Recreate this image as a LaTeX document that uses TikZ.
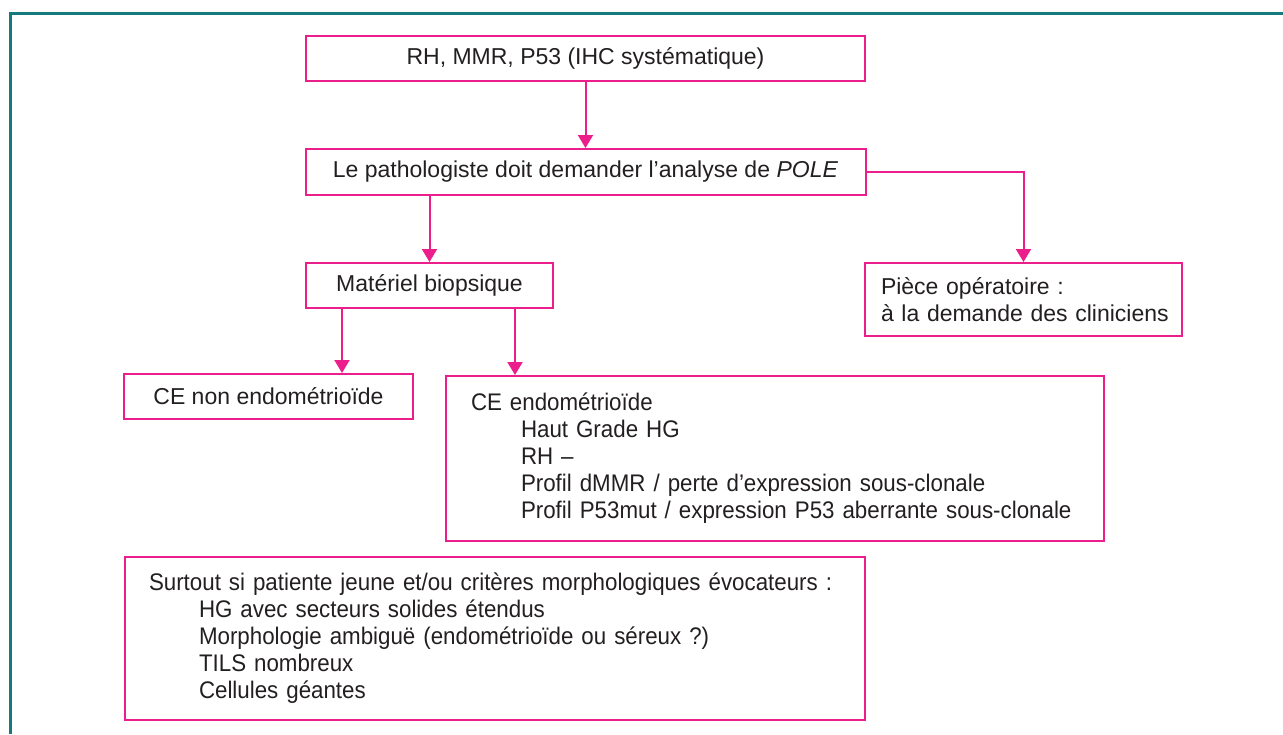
\documentclass[tikz,border=0pt]{standalone}
\usepackage{fontspec}
\setmainfont{Liberation Sans}
\newfontfamily\condf[FakeStretch=0.93]{Liberation Sans}
\usetikzlibrary{arrows.meta,calc}
\definecolor{pinkc}{RGB}{235,30,140}
\definecolor{tealc}{RGB}{20,122,124}
\definecolor{txt}{RGB}{35,31,32}
\begin{document}
\begin{tikzpicture}[x=1pt,y=-1pt,
  box/.style={draw=pinkc, line width=2pt, rectangle, inner sep=0pt, text=txt,
    font=\fontsize{23}{27}\selectfont, anchor=north west},
  condbox/.style={box, align=left, font=\condf\fontsize{24}{27}\selectfont},
  arr/.style={draw=pinkc, line width=2pt, -{Triangle[width=15pt,length=13pt]}}]
\useasboundingbox (0,0) rectangle (1283,734);
\draw[tealc, line width=3pt] (10,734) -- (10,13) -- (1283,13);

\node[box, minimum width=559pt, minimum height=45pt] (b1) at (305,35) {RH, MMR, P53 (IHC systématique)};
\node[box, minimum width=560pt, minimum height=46pt] (b2) at (304.5,148) {Le pathologiste doit demander l’analyse de \textit{POLE}};
\node[box, minimum width=247pt, minimum height=45pt] (b3) at (305,262) {Matériel biopsique};
\node[box, text width=285pt, inner xsep=16pt, minimum height=73pt, align=left] (b4) at (864,262) {\mbox{Pièce opératoire~:}\\\mbox{à la demande des cliniciens}};
\node[box, minimum width=289pt, minimum height=45pt] (b5) at (123,373) {CE non endométrioïde};
\node[condbox, text width=608pt, inner xsep=25pt, minimum height=165pt] (b6) at (445,375) {CE endométrioïde\\
\hspace*{50pt}Haut Grade HG\\
\hspace*{50pt}RH –\\
\hspace*{50pt}Profil dMMR / perte d’expression sous-clonale\\
\hspace*{50pt}Profil P53mut / expression P53 aberrante sous-clonale};
\node[condbox, text width=692pt, inner xsep=24pt, minimum height=163pt] (b7) at (124,556) {Surtout si patiente jeune et/ou critères morphologiques évocateurs~:\\
\hspace*{50pt}HG avec secteurs solides étendus\\
\hspace*{50pt}Morphologie ambiguë (endométrioïde ou séreux~?)\\
\hspace*{50pt}TILS nombreux\\
\hspace*{50pt}Cellules géantes};

\draw[arr] (b1.south) -- (b2.north);
\draw[arr] (b2.south -| b3.north) -- (b3.north);
\draw[arr] (b2.east) -| (b4.north);
\coordinate (s1) at ($(b3.south west)+(37,0)$);
\coordinate (s2) at ($(b3.south west)+(210,0)$);
\draw[arr] (s1) -- (s1 |- b5.north);
\draw[arr] (s2) -- (s2 |- b6.north);
\end{tikzpicture}
\end{document}
